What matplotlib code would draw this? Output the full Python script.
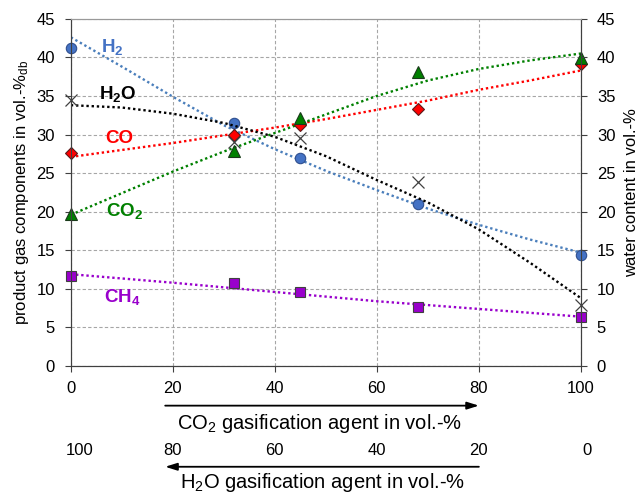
import numpy as np
import matplotlib.pyplot as plt

plt.rcParams['font.family'] = ['Liberation Sans', 'DejaVu Sans']
plt.rcParams['mathtext.fontset'] = 'custom'
plt.rcParams['mathtext.rm'] = 'Liberation Sans'
plt.rcParams['mathtext.it'] = 'Liberation Sans:italic'
plt.rcParams['mathtext.bf'] = 'Liberation Sans:bold'

# measured points (x = CO2 share of gasification agent)
co2_agent = [0, 32, 45, 68, 100]
h2 = [41.2, 31.5, 27.0, 21.0, 14.4]
co = [27.6, 30.0, 31.3, 33.3, 39.2]
co2 = [19.7, 27.9, 32.1, 38.1, 39.9]
ch4 = [11.7, 10.7, 9.55, 7.7, 6.3]
h2o = [34.5, 29.0, 29.6, 23.8, 7.9]

# trend lines
trend_x = [0, 10, 20, 30, 40, 50, 60, 70, 80, 90, 100]
h2_trend = [42.6, 38.8, 34.9, 31.2, 28.1, 25.3, 22.8, 20.4, 18.3, 16.4, 14.7]
co_trend = [27.1, 28.0, 28.9, 29.9, 30.9, 32.0, 33.2, 34.4, 35.8, 37.0, 38.3]
co2_trend = [19.6, 22.4, 25.2, 27.8, 30.2, 32.6, 35.0, 37.0, 38.5, 39.6, 40.5]
ch4_trend = [11.9, 11.35, 10.8, 10.2, 9.6, 9.0, 8.4, 7.9, 7.4, 6.9, 6.4]
h2o_trend = [33.8, 33.5, 32.7, 31.5, 29.7, 27.2, 24.1, 21.2, 17.7, 13.4, 8.8]

h2o_agent_labels = [100, 80, 60, 40, 20, 0]

fig = plt.figure(figsize=(6.44, 4.94), dpi=100)
ax = fig.add_axes([0.110, 0.259, 0.792, 0.703])
ax2 = ax.twinx()

dots = dict(linestyle=(0, (1, 1.2)), linewidth=1.7)
ax.plot(trend_x, h2_trend, color='#4a7ebb', **dots)
ax.plot(trend_x, co_trend, color='#ff0000', **dots)
ax.plot(trend_x, co2_trend, color='#008000', **dots)
ax.plot(trend_x, ch4_trend, color='#9900cc', **dots)
ax2.plot(trend_x, h2o_trend, color='black', **dots)

ax.plot(co2_agent, h2, 'o', ms=7.5, mfc='#4472c4', mec='#2f4f8f', mew=0.8, ls='none', clip_on=False, zorder=5)
ax.plot(co2_agent, co, 'D', ms=6.5, mfc='#ff0000', mec='#5a1a1a', mew=0.8, ls='none', clip_on=False, zorder=5)
ax.plot(co2_agent, co2, '^', ms=8, mfc='#008000', mec='#1a3a1a', mew=0.8, ls='none', clip_on=False, zorder=5)
ax.plot(co2_agent, ch4, 's', ms=6.5, mfc='#9900cc', mec='#404040', mew=0.8, ls='none', clip_on=False, zorder=5)
ax2.plot(co2_agent, h2o, 'x', ms=8.5, color='#404040', mew=0.9, ls='none', clip_on=False, zorder=5)

for a in (ax, ax2):
    a.set_xlim(0, 100)
    a.set_ylim(0, 45)
    a.set_yticks(np.arange(0, 46, 5))
    a.tick_params(labelsize=12, length=4.5, color='#404040', pad=7)
    for s in a.spines.values():
        s.set_color('#404040')
    a.spines['top'].set_color('#999999')
ax.set_xticks([0, 20, 40, 60, 80, 100])
ax.tick_params(axis='x', pad=6)
ax.grid(True, color='#a6a6a6', linestyle=(0, (3, 2)), linewidth=0.8)
ax.set_axisbelow(True)

ax.set_ylabel('product gas components in vol.-%$_{\\mathrm{db}}$', fontsize=12, labelpad=4)
ax2.set_ylabel('water content in vol.-%', fontsize=12, labelpad=6)

lbl = dict(fontsize=13.5, fontweight='bold', ha='center', va='center')
ax.text(8.2, 41.3, 'H$_\\mathbf{2}$', color='#4472c4', **lbl)
ax.text(9.2, 35.2, 'H$_\\mathbf{2}$O', color='black', **lbl)
ax.text(9.5, 29.5, 'CO', color='#ff0000', **lbl)
ax.text(10.6, 20.1, 'CO$_\\mathbf{2}$', color='#008000', **lbl)
ax.text(10.0, 8.9, 'CH$_\\mathbf{4}$', color='#9900cc', **lbl)

# secondary agent scale and arrows below the plot
trans = ax.get_xaxis_transform()
arrow = dict(arrowstyle='-|>,head_length=0.7,head_width=0.22', color='black', lw=1.3,
             shrinkA=0, shrinkB=0)
ax.annotate('', xy=(80, -0.114), xytext=(18.5, -0.114), xycoords=trans, arrowprops=arrow)
ax.text(48.8, -0.165, 'CO$_2$ gasification agent in vol.-%', transform=trans,
        fontsize=14.5, ha='center', va='center')
for v in h2o_agent_labels:
    x = 100 - v
    if v == 100:
        x += 1.8
    if v == 0:
        x += 1.2
    ax.text(x, -0.244, str(v), transform=trans, fontsize=12, ha='center', va='center')
ax.annotate('', xy=(18.5, -0.290), xytext=(80, -0.290), xycoords=trans, arrowprops=arrow)
ax.text(49.3, -0.334, 'H$_2$O gasification agent in vol.-%', transform=trans,
        fontsize=14.5, ha='center', va='center')

fig.savefig('out.png', dpi=100)
